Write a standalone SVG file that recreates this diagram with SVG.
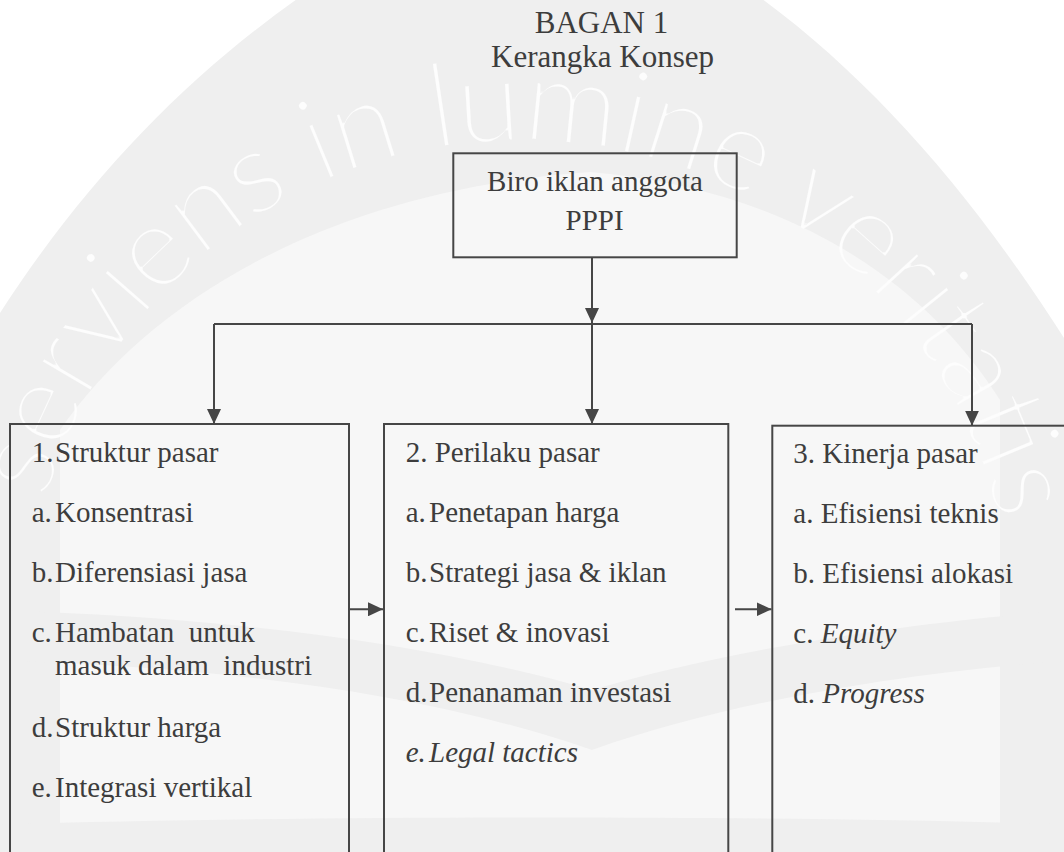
<svg xmlns="http://www.w3.org/2000/svg" width="1064" height="852" viewBox="0 0 1064 852">
  <style>
    .t { font-family: "Liberation Serif", "Times New Roman", serif; font-size: 29px; fill: #3d3d3d; white-space: pre; }
    .title { font-family: "Liberation Serif", "Times New Roman", serif; font-size: 31px; fill: #3d3d3d; }
    .it { font-style: italic; }
    .box { fill: none; stroke: #464646; stroke-width: 2; }
    .wire { fill: none; stroke: #464646; stroke-width: 2; }
    .wm { font-family: Lato, "Open Sans", "DejaVu Sans", sans-serif; font-weight: 300; font-size: 116px; fill: #fdfdfd; }
  </style>
  <defs>
    <marker id="arr" viewBox="0 0 15 14" refX="15" refY="7" markerWidth="15" markerHeight="14" markerUnits="userSpaceOnUse" orient="auto">
      <path d="M0,0 L15,7 L0,14 Z" fill="#464646"/>
    </marker>
    <path id="wmArc" d="M 46 500 A 492 492 0 0 1 998 517"/>
    <filter id="thin" x="-5%" y="-5%" width="110%" height="110%">
      <feMorphology operator="erode" radius="1.4"/>
    </filter>
  </defs>

  <!-- background watermark -->
  <g id="watermark">
    <rect x="0" y="0" width="1064" height="852" fill="#ffffff"/>
    <path d="M -20 345 C 80 180, 200 60, 340 -30 L 720 -30 C 860 60, 980 200, 1084 370 L 1084 852 L -20 852 Z" fill="#efefef"/>
    <path d="M 60 430 C 150 300, 330 190, 590 172 C 800 190, 930 290, 1000 400 L 1000 852 L 60 852 Z" fill="#f7f7f7"/>
    <path d="M -20 610 C 200 615, 420 640, 592 690 C 760 640, 980 615, 1084 610 L 1084 660 C 980 665, 760 690, 592 750 C 420 690, 200 665, -20 660 Z" fill="#efefef"/>
    <path d="M -20 825 C 300 815, 800 815, 1084 825 L 1084 852 L -20 852 Z" fill="#efefef"/>
    <text class="wm" filter="url(#thin)"><textPath href="#wmArc" textLength="1300" lengthAdjust="spacing">serviens in lumine veritatis</textPath></text>
  </g>

  <g id="title">
    <text class="title" x="601.5" y="33" text-anchor="middle">BAGAN 1</text>
    <text class="title" x="602.5" y="67" text-anchor="middle">Kerangka Konsep</text>
  </g>

  <g id="connectors">
    <path class="wire" d="M 592 257.3 V 323" marker-end="url(#arr)"/>
    <path class="wire" d="M 214 324 H 972"/>
    <path class="wire" d="M 214 324 V 424" marker-end="url(#arr)"/>
    <path class="wire" d="M 592 324 V 424" marker-end="url(#arr)"/>
    <path class="wire" d="M 972 324 V 425.7" marker-end="url(#arr)"/>
    <path class="wire" d="M 349 609.3 H 383" marker-end="url(#arr)"/>
    <path class="wire" d="M 735 609.3 H 771.5" marker-end="url(#arr)"/>
  </g>

  <g id="node-biro">
    <rect class="box" x="453.3" y="153.3" width="283.4" height="104"/>
    <text class="t" x="595" y="190.7" text-anchor="middle">Biro iklan anggota</text>
    <text class="t" x="594.6" y="230" text-anchor="middle">PPPI</text>
  </g>

  <g id="node-struktur">
    <rect class="box" x="10" y="424" width="339" height="450"/>
    <text class="t" x="31.7" y="461.7">1.</text><text class="t" x="55" y="461.7">Struktur pasar</text>
    <text class="t" x="31.7" y="521.7">a.</text><text class="t" x="55" y="521.7">Konsentrasi</text>
    <text class="t" x="31.7" y="581.7">b.</text><text class="t" x="55" y="581.7">Diferensiasi jasa</text>
    <text class="t" x="31.7" y="641.7">c.</text><text class="t" x="55" y="641.7">Hambatan  untuk</text>
    <text class="t" x="55" y="675">masuk dalam  industri</text>
    <text class="t" x="31.7" y="736.7">d.</text><text class="t" x="55" y="736.7">Struktur harga</text>
    <text class="t" x="31.7" y="796.7">e.</text><text class="t" x="55" y="796.7">Integrasi vertikal</text>
  </g>

  <g id="node-perilaku">
    <rect class="box" x="384" y="424" width="344.3" height="450"/>
    <text class="t" x="405.7" y="461.7">2. Perilaku pasar</text>
    <text class="t" x="405.7" y="521.7">a.</text><text class="t" x="429" y="521.7">Penetapan harga</text>
    <text class="t" x="405.7" y="581.7">b.</text><text class="t" x="429" y="581.7">Strategi jasa &amp; iklan</text>
    <text class="t" x="405.7" y="641.7">c.</text><text class="t" x="429" y="641.7">Riset &amp; inovasi</text>
    <text class="t" x="405.7" y="701.7">d.</text><text class="t" x="429" y="701.7">Penanaman investasi</text>
    <text class="t it" x="405.7" y="761.7">e.</text><text class="t it" x="429" y="761.7">Legal tactics</text>
  </g>

  <g id="node-kinerja">
    <rect class="box" x="772.3" y="425.7" width="320" height="450"/>
    <text class="t" x="793.3" y="463.3">3. Kinerja pasar</text>
    <text class="t" x="793.3" y="523.3">a. Efisiensi teknis</text>
    <text class="t" x="793.3" y="583.3">b. Efisiensi alokasi</text>
    <text class="t" x="793.3" y="643.3">c. <tspan class="it">Equity</tspan></text>
    <text class="t" x="793.3" y="703.3">d. <tspan class="it">Progress</tspan></text>
  </g>
</svg>
